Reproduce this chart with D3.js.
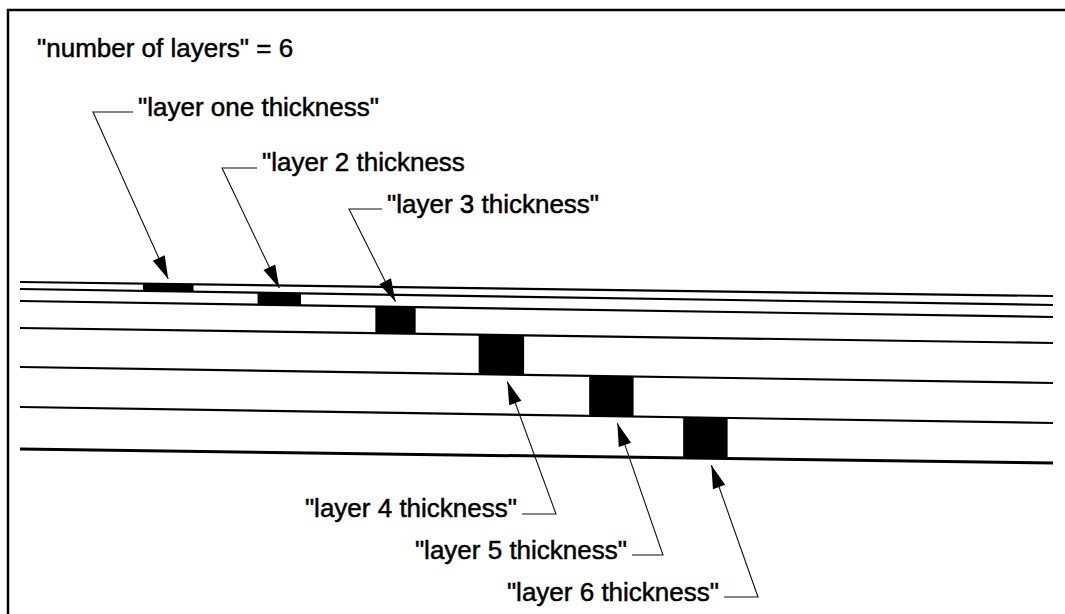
<!DOCTYPE html>
<html>
<head>
<meta charset="utf-8">
<script src="https://cdn.jsdelivr.net/npm/d3@7"></script>
<style>
  html, body { margin: 0; padding: 0; background: #fff; overflow: hidden; }
  svg { display: block; }
  text { font-family: "Liberation Sans", Arial, sans-serif; fill: #000; stroke: #000; stroke-width: 0.5px; }
</style>
</head>
<body>
<div id="chart"></div>
<script>
// layer model: boundary depths at the left and right end of the section
const numberOfLayers = 6
const boundaryLeft = [0, 7, 19, 46, 85, 125, 167]
const boundaryRight = [14, 23, 35, 61, 101, 141, 181]
// where each thickness marker sits along the section (0..100)
const markerStart = [11.9, 23.0, 34.4, 44.4, 55.1, 64.2]
const markerEnd = [16.8, 27.2, 38.3, 48.8, 59.4, 68.5]
const layerLabels = [
    '"layer one thickness"',
    '"layer 2 thickness',
    '"layer 3 thickness"',
    '"layer 4 thickness"',
    '"layer 5 thickness"',
    '"layer 6 thickness"'
]

var width = 1065, height = 614;

var svg = d3.select("#chart")
    .append("svg")
    .attr("width", width)
    .attr("height", height)

var x = d3.scaleLinear().domain([0, 100]).range([20, 1053])
var y = d3.scaleLinear().domain([0, 181]).range([282, 463])

// depth of boundary i at position u
const depthAt = (i, u) => boundaryLeft[i] + (boundaryRight[i] - boundaryLeft[i]) * u / 100

// frame (only top and left edges are visible)
svg.append("path")
    .attr("d", "M8,614V10H1065")
    .attr("fill", "none")
    .attr("stroke", "#000")
    .attr("stroke-width", 2.5)

svg.append("text")
    .attr("x", 37)
    .attr("y", 57)
    .attr("font-size", 26)
    .text(`"number of layers" = ${numberOfLayers}`)

// boundary lines
svg.selectAll("line.boundary")
    .data(boundaryLeft)
    .enter()
    .append("line")
    .attr("class", "boundary")
    .attr("x1", x(0))
    .attr("x2", x(100))
    .attr("y1", d => y(d))
    .attr("y2", (d, i) => y(boundaryRight[i]))
    .attr("stroke", "#000")
    .attr("stroke-width", (d, i) => i == boundaryLeft.length - 1 ? 3 : 2.2)

// thickness markers
var markers = markerStart.map((s, i) => {
    const mid = (s + markerEnd[i]) / 2
    return {
        x0: x(s), x1: x(markerEnd[i]), cx: x(mid),
        top: y(depthAt(i, mid)), bottom: y(depthAt(i + 1, mid))
    }
})

svg.selectAll("rect.marker")
    .data(markers)
    .enter()
    .append("rect")
    .attr("class", "marker")
    .attr("x", d => d.x0)
    .attr("width", d => d.x1 - d.x0)
    .attr("y", d => d.top)
    .attr("height", d => d.bottom - d.top)
    .attr("fill", "#000")

// label layout: elbow of the leader and the text baseline
var layout = [
    { ex: 93, ey: 112, tx: 138, ty: 116, below: false },
    { ex: 222, ey: 168, tx: 262, ty: 171, below: false },
    { ex: 349, ey: 209, tx: 387, ty: 213, below: false },
    { ex: 556, ey: 514, tx: 517, ty: 517, below: true },
    { ex: 663, ey: 555, tx: 627, ty: 559, below: true },
    { ex: 758, ey: 597, tx: 719, ty: 601, below: true }
]

layout.forEach((l, i) => {
    const m = markers[i]
    const tip = l.below ? [m.cx + 6, m.bottom + 7] : [m.cx, m.top - 5]

    const g = svg.append("g")

    // horizontal leader from text to elbow, then slanted to the tip
    const hx = l.below ? l.tx + 5 : l.tx - 5
    g.append("path")
        .attr("d", `M${hx},${l.ey}L${l.ex},${l.ey}L${tip[0]},${tip[1]}`)
        .attr("fill", "none")
        .attr("stroke", "#111")
        .attr("stroke-width", 1.1)

    // arrow head
    const dx = tip[0] - l.ex, dy = tip[1] - l.ey
    const len = Math.sqrt(dx * dx + dy * dy)
    const ux = dx / len, uy = dy / len
    const hl = 23, hw = 6.5
    const bx = tip[0] - ux * hl, by = tip[1] - uy * hl
    g.append("path")
        .attr("d", `M${tip[0]},${tip[1]}L${bx - uy * hw},${by + ux * hw}L${bx + uy * hw},${by - ux * hw}Z`)
        .attr("fill", "#000")

    g.append("text")
        .attr("x", l.tx)
        .attr("y", l.ty)
        .attr("font-size", 26)
        .attr("text-anchor", l.below ? "end" : "start")
        .text(layerLabels[i])
})
</script>
</body>
</html>
